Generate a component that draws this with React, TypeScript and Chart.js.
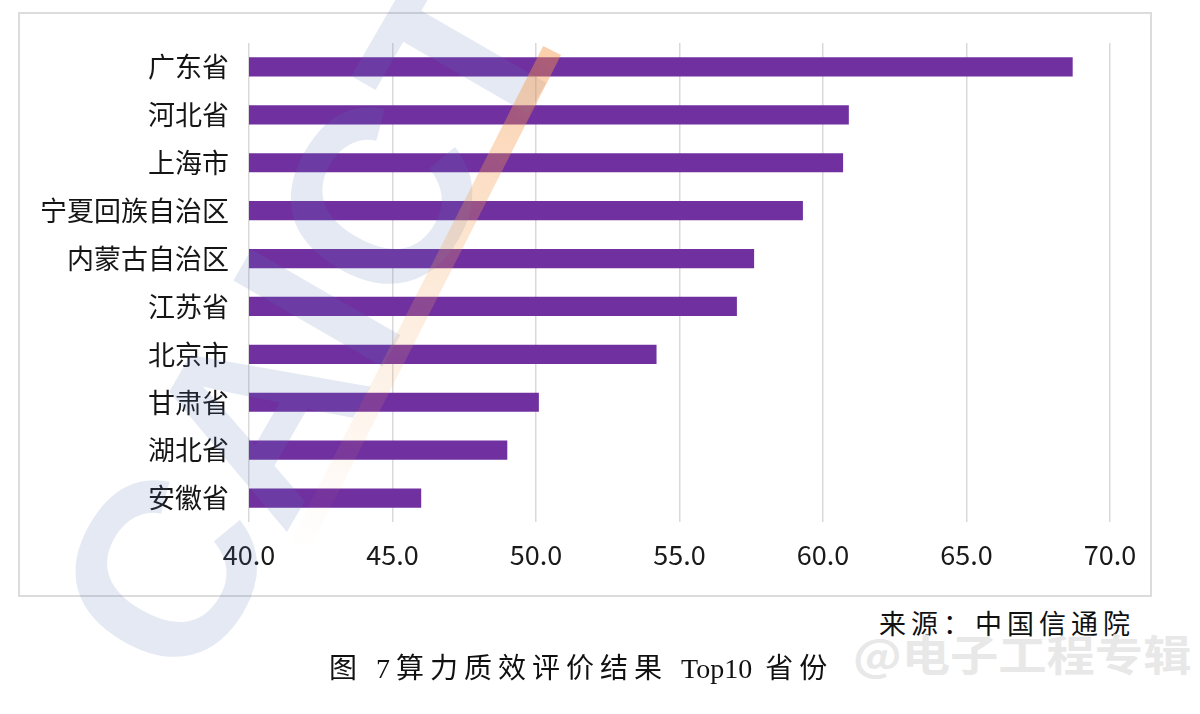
import React, { useEffect, useRef } from "react";
import { Chart, registerables } from "chart.js";

Chart.register(...registerables);

const categories = [
  "广东省",
  "河北省",
  "上海市",
  "宁夏回族自治区",
  "内蒙古自治区",
  "江苏省",
  "北京市",
  "甘肃省",
  "湖北省",
  "安徽省",
];
const scores = [68.7, 60.9, 60.7, 59.3, 57.6, 57.0, 54.2, 50.1, 49.0, 46.0];
const xMin = 40;
const xMax = 70;
const xStep = 5;
const sourceText = "来源：中国信通院";
const captionHead = "图 7算力质效评价结果";
const captionLatin = "Top10";
const captionTail = "省份";
const watermarkText = "@电子工程专辑";
const logoText = "CAICT";

const BAR_COLOR = "#7030A0";
const CJK = '"Noto Sans CJK SC", "Noto Sans", sans-serif';
const SERIF = '"Liberation Serif", "Noto Sans CJK SC", serif';

export default function App() {
  const canvasRef = useRef<HTMLCanvasElement | null>(null);

  useEffect(() => {
    document.body.style.margin = "0";
    const canvas = canvasRef.current;
    if (!canvas) return;
    const chart = new Chart(canvas, {
      type: "bar",
      data: {
        labels: categories,
        datasets: [
          {
            data: scores,
            backgroundColor: BAR_COLOR,
            borderWidth: 0,
            barPercentage: 0.4,
            categoryPercentage: 1.0,
          },
        ],
      },
      options: {
        indexAxis: "y",
        responsive: false,
        animation: false,
        layout: { padding: { top: 43, right: 90, bottom: 0, left: 0 } },
        plugins: {
          legend: { display: false },
          tooltip: { enabled: false },
          title: { display: false },
        },
        scales: {
          x: {
            min: xMin,
            max: xMax,
            border: { display: false },
            grid: { color: "#d9d9d9", lineWidth: 1.5, drawTicks: false },
            ticks: {
              stepSize: xStep,
              padding: 17,
              color: "#1a1a1a",
              font: { family: CJK, size: 27 },
              callback: (v: any) => Number(v).toFixed(1),
            },
            afterFit: (scale: any) => {
              scale.height = 78;
            },
          },
          y: {
            border: { display: false },
            grid: { display: false },
            ticks: {
              padding: 12,
              color: "#151515",
              font: { family: CJK, size: 27 },
            },
            afterFit: (scale: any) => {
              scale.width = 249;
            },
          },
        },
      },
    });
    return () => chart.destroy();
  }, []);

  return (
    <div
      style={{
        position: "relative",
        width: 1200,
        height: 714,
        background: "#ffffff",
        overflow: "hidden",
      }}
    >
      <div
        style={{
          position: "absolute",
          left: 18,
          top: 12,
          width: 1134,
          height: 585,
          border: "2px solid #dcdcdc",
          boxSizing: "border-box",
        }}
      />
      <canvas
        ref={canvasRef}
        width={1200}
        height={600}
        style={{ position: "absolute", left: 0, top: 0, width: 1200, height: 600 }}
      />
      {/* CAICT watermark logo (approximation) */}
      <div
        style={{
          position: "absolute",
          left: 310,
          top: 320,
          transform: "translate(-50%, -50%) rotate(-60deg)",
          fontFamily: '"Liberation Sans", Arial, sans-serif',
          fontWeight: 700,
          fontSize: 250,
          lineHeight: "250px",
          color: "rgba(90, 120, 180, 0.16)",
          whiteSpace: "nowrap",
          pointerEvents: "none",
        }}
      >
        {logoText}
      </div>
      <div
        style={{
          position: "absolute",
          left: 425,
          top: 300,
          width: 20,
          height: 560,
          transform: "translate(-50%, -50%) rotate(27deg)",
          background:
            "linear-gradient(to bottom, rgba(245,150,70,0.45), rgba(245,170,100,0.22) 50%, rgba(245,190,140,0))",
          pointerEvents: "none",
        }}
      />
      <div
        style={{
          position: "absolute",
          left: 879,
          top: 609,
          fontFamily: SERIF,
          fontSize: 27,
          lineHeight: "32px",
          letterSpacing: "5px",
          color: "#111",
          whiteSpace: "nowrap",
        }}
      >
        {sourceText}
      </div>
      <div
        style={{
          position: "absolute",
          left: 853,
          top: 628,
          fontFamily: CJK,
          fontWeight: 700,
          fontSize: 42,
          lineHeight: "50px",
          letterSpacing: "0px",
          color: "rgba(228,228,228,0.85)",
          textShadow: "0 0 2px #ffffff, 0 0 1px #ffffff",
          transform: "scaleX(1.15)",
          transformOrigin: "left center",
          whiteSpace: "nowrap",
        }}
      >
        {watermarkText}
      </div>
      <div
        style={{
          position: "absolute",
          left: 329,
          top: 652,
          fontFamily: SERIF,
          fontSize: 28,
          lineHeight: "34px",
          letterSpacing: "6px",
          color: "#111",
          whiteSpace: "nowrap",
        }}
      >
        {captionHead}{" "}
        <span style={{ letterSpacing: "0px" }}>{captionLatin}</span>{" "}
        {captionTail}
      </div>
    </div>
  );
}
